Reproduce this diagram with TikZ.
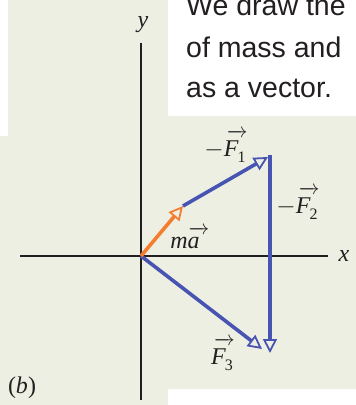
\documentclass[tikz,border=0pt]{standalone}
\usepackage{fontspec}
\setmainfont{Liberation Serif}
\newfontfamily\txtsans{Liberation Sans}
\usetikzlibrary{arrows.meta}
\definecolor{bgbeige}{RGB}{238,239,227}
\definecolor{vecblue}{RGB}{72,84,178}
\definecolor{vecorange}{RGB}{244,125,48}
\definecolor{inkdark}{RGB}{35,31,32}
\newsavebox\vecbox
\newcommand\vecarr[2][3pt]{\sbox\vecbox{#2}\rlap{\kern#1\raisebox{\dimexpr\ht\vecbox+3pt\relax}{\hbox to \dimexpr\wd\vecbox+5pt\relax{\fontsize{21}{21}\selectfont\rightarrowfill}}}\usebox\vecbox}
\newcommand\subnum[1]{\raisebox{-6pt}{\fontsize{16}{16}\selectfont #1}}
\tikzset{
  axisline/.style={line width=1.1pt, inkdark},
  bluevec/.style={line width=3.6pt, vecblue, -{Triangle[open, length=14pt, width=14pt, line width=1.8pt]}},
  orangevec/.style={line width=3.6pt, vecorange, -{Triangle[open, length=14pt, width=14pt, line width=1.8pt]}},
  vlabel/.style={inkdark, font=\fontsize{24}{26}\selectfont, inner sep=0pt},
  bodytext/.style={inkdark, font=\txtsans\fontsize{28.5}{41}\selectfont, anchor=base west, inner sep=0pt}
}
\begin{document}
\begin{tikzpicture}[x=1pt,y=-1pt]
\useasboundingbox (0,0) rectangle (356,405);
\clip (0,0) rectangle (356,405);
% backgrounds
\fill[bgbeige] (0,0) rectangle (356,405);
\fill[white] (0,0) rectangle (8,136);
\fill[white] (168,0) rectangle (356,116);
\fill[white] (168,389) rectangle (356,405);
% text
\node[bodytext] (t1) at (186,15) {We draw the};
\node[bodytext] (t2) at (186,57) {of mass and};
\node[bodytext] (t3) at (186,97) {as a vector.};
% axes
\coordinate (ytop) at (141,43);
\coordinate (ybot) at (141,400);
\coordinate (xleft) at (20,256);
\coordinate (xright) at (328,256);
\draw[axisline] (ybot) -- (ytop);
\draw[axisline] (xleft) -- (xright);
\node[vlabel, font=\fontsize{24}{26}\selectfont\itshape] (ylab) at (143,25) {y};
\node[vlabel, font=\fontsize{24}{26}\selectfont\itshape] (xlab) at (344,256) {x};
% vectors
\coordinate (O) at (141,256);
\coordinate (A) at (183,206);
\coordinate (B) at (268,157);
\coordinate (Bc) at (270,155);
\coordinate (C) at (270,353);
\coordinate (D) at (262,349);
\draw[bluevec] (A) -- (B);
\draw[bluevec] (Bc) -- (C);
\draw[bluevec] (O) -- (D);
\draw[orangevec] (O) -- (A);
% labels
\node[vlabel] (lF1) at (225,146) {$-$\vecarr{\itshape F}\kern-1pt\subnum{1}};
\node[vlabel] (lF2) at (297,203) {$-$\vecarr{\itshape F}\kern-1pt\subnum{2}};
\node[vlabel] (lF3) at (222,354) {\vecarr{\itshape F}\kern-1pt\subnum{3}};
\node[vlabel] (lma) at (185,238) {\itshape m\vecarr[1pt]{\itshape a}};
\node[vlabel] (lb) at (22,388) {(\textit{b})};
\end{tikzpicture}
\end{document}
